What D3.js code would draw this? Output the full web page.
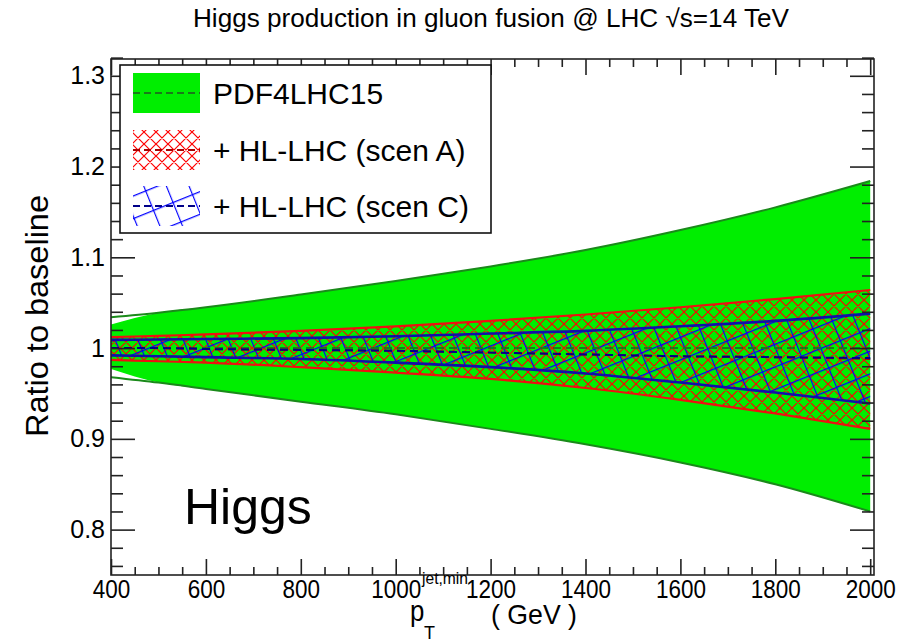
<!DOCTYPE html>
<html>
<head>
<meta charset="utf-8">
<script src="https://cdn.jsdelivr.net/npm/d3@7"></script>
<style>
  body { margin: 0; background: #fff; }
  text { font-family: "Liberation Sans", Arial, Helvetica, sans-serif; fill: #000; }
</style>
</head>
<body>
<svg id="chart"></svg>
<script>
// pT^{jet,min} grid (GeV)
const ptMin = [400, 500, 600, 800, 1000, 1200, 1400, 1600, 1800, 2000];

// PDF4LHC15 band (outline) and its fill, which starts a bit narrower
const pdfUp     = [1.034, 1.039, 1.045, 1.059, 1.074, 1.090, 1.108, 1.130, 1.155, 1.184];
const pdfDn     = [0.968, 0.962, 0.955, 0.941, 0.927, 0.911, 0.894, 0.874, 0.850, 0.820];
const pdfFillUp = [1.026, 1.039, 1.045, 1.059, 1.074, 1.090, 1.108, 1.130, 1.155, 1.184];
const pdfFillDn = [0.977, 0.962, 0.955, 0.941, 0.927, 0.911, 0.894, 0.874, 0.850, 0.820];
const pdfMid    = [1.000, 1.000, 1.000, 1.000, 1.000, 1.000, 1.000, 1.000, 1.000, 1.000];

// + HL-LHC (scen A)
const scenAUp  = [1.012, 1.0135, 1.015, 1.019, 1.024, 1.030, 1.037, 1.045, 1.054, 1.064];
const scenADn  = [0.987, 0.9855, 0.984, 0.979, 0.973, 0.966, 0.956, 0.943, 0.928, 0.911];
const scenAMid = [1.000, 1.000, 0.999, 0.998, 0.997, 0.995, 0.993, 0.991, 0.990, 0.988];

// + HL-LHC (scen C)
const scenCUp  = [1.009, 1.0095, 1.010, 1.011, 1.013, 1.016, 1.019, 1.024, 1.030, 1.038];
const scenCDn  = [0.992, 0.991, 0.990, 0.988, 0.984, 0.979, 0.972, 0.962, 0.951, 0.939];
const scenCMid = [1.000, 1.000, 0.999, 0.998, 0.997, 0.995, 0.993, 0.991, 0.990, 0.989];

const xMajor = [400, 600, 800, 1000, 1200, 1400, 1600, 1800, 2000];
const yMajor = [0.8, 0.9, 1.0, 1.1, 1.2, 1.3];
const yLabels = ["0.8", "0.9", "1", "1.1", "1.2", "1.3"];
const legendNames = ["PDF4LHC15", "+ HL-LHC (scen A)", "+ HL-LHC (scen C)"];

const width = 907, height = 642;
const frame = { left: 111, right: 874, top: 59, bottom: 575 };

const svg = d3.select("#chart").attr("width", width).attr("height", height);

const x = d3.scaleLinear().domain([400, 2008]).range([frame.left, frame.right]);
const y = d3.scaleLinear().domain([0.75, 1.3185]).range([frame.bottom, frame.top]);

// hatch patterns
const defs = svg.append("defs");
const hatchA = defs.append("pattern")
  .attr("id", "hatchA").attr("patternUnits", "userSpaceOnUse")
  .attr("width", 12).attr("height", 12);
hatchA.append("path").attr("d", "M0,0L12,12M0,12L12,0M-1,1L1,-1M11,13L13,11M-1,11L1,13M11,-1L13,1")
  .attr("stroke", "#ff0000").attr("stroke-width", 1.2).attr("fill", "none");

const hatchC = defs.append("pattern")
  .attr("id", "hatchC").attr("patternUnits", "userSpaceOnUse")
  .attr("width", 21).attr("height", 21)
  .attr("patternTransform", "rotate(-22)");
hatchC.append("path").attr("d", "M0,0.5H21M0.5,0V21")
  .attr("stroke", "#0000ff").attr("stroke-width", 1.3).attr("fill", "none");

const idx = d3.range(ptMin.length);

function band(up, dn) {
  return d3.area()
    .x(i => x(ptMin[i]))
    .y0(i => y(dn[i]))
    .y1(i => y(up[i]))
    .curve(d3.curveMonotoneX)(idx);
}
function line(vals) {
  return d3.line()
    .x(i => x(ptMin[i]))
    .y(i => y(vals[i]))
    .curve(d3.curveMonotoneX)(idx);
}

const plot = svg.append("g");

// PDF4LHC15 band
plot.append("path").attr("d", band(pdfFillUp, pdfFillDn)).attr("fill", "#00ee00");
[pdfUp, pdfDn].forEach(v => plot.append("path").attr("d", line(v))
  .attr("fill", "none").attr("stroke", "#1a8a1a").attr("stroke-width", 2));

// scen A
plot.append("path").attr("d", band(scenAUp, scenADn)).attr("fill", "url(#hatchA)");
[scenAUp, scenADn].forEach(v => plot.append("path").attr("d", line(v))
  .attr("fill", "none").attr("stroke", "#ee1010").attr("stroke-width", 2.2));

// scen C
plot.append("path").attr("d", band(scenCUp, scenCDn)).attr("fill", "url(#hatchC)");
[scenCUp, scenCDn].forEach(v => plot.append("path").attr("d", line(v))
  .attr("fill", "none").attr("stroke", "#1010a8").attr("stroke-width", 2.6));

// central lines
plot.append("path").attr("d", line(pdfMid)).attr("fill", "none")
  .attr("stroke", "#1a7a1a").attr("stroke-width", 2).attr("stroke-dasharray", "8,5");
plot.append("path").attr("d", line(scenAMid)).attr("fill", "none")
  .attr("stroke", "#aa0000").attr("stroke-width", 2).attr("stroke-dasharray", "8,5");
plot.append("path").attr("d", line(scenCMid)).attr("fill", "none")
  .attr("stroke", "#000088").attr("stroke-width", 2).attr("stroke-dasharray", "8,5");

// Axes (ROOT style: ticks inside, on all four sides)
const xMinor = d3.range(400, 2001, 50).filter(v => !xMajor.includes(v));
const yMinor = d3.range(0.76, 1.3201, 0.02).map(v => +v.toFixed(2))
  .filter(v => !yMajor.some(m => Math.abs(m - v) < 1e-6));

function styleAxis(g) {
  g.select(".domain").remove();
  g.selectAll(".tick line").attr("stroke", "#222").attr("stroke-width", 1.6);
}

svg.append("g").attr("transform", `translate(0,${frame.bottom})`)
  .call(d3.axisBottom(x).tickValues(xMajor).tickSize(-16).tickPadding(5).tickFormat(d3.format("d")))
  .call(styleAxis)
  .call(g => g.selectAll(".tick text")
    .attr("font-size", 25).attr("dy", "0.71em")
    .attr("transform", "scale(0.9,1)"));
svg.append("g").attr("transform", `translate(0,${frame.bottom})`)
  .call(d3.axisBottom(x).tickValues(xMinor).tickSize(-8).tickFormat(""))
  .call(styleAxis);
svg.append("g").attr("transform", `translate(0,${frame.top})`)
  .call(d3.axisTop(x).tickValues(xMajor).tickSize(-16).tickFormat(""))
  .call(styleAxis);
svg.append("g").attr("transform", `translate(0,${frame.top})`)
  .call(d3.axisTop(x).tickValues(xMinor).tickSize(-8).tickFormat(""))
  .call(styleAxis);

svg.append("g").attr("transform", `translate(${frame.left},0)`)
  .call(d3.axisLeft(y).tickValues(yMajor).tickSize(-24).tickPadding(6)
    .tickFormat((d, i) => yLabels[i]))
  .call(styleAxis)
  .call(g => g.selectAll(".tick text").attr("font-size", 25));
svg.append("g").attr("transform", `translate(${frame.left},0)`)
  .call(d3.axisLeft(y).tickValues(yMinor).tickSize(-12).tickFormat(""))
  .call(styleAxis);
svg.append("g").attr("transform", `translate(${frame.right},0)`)
  .call(d3.axisRight(y).tickValues(yMajor).tickSize(-24).tickFormat(""))
  .call(styleAxis);
svg.append("g").attr("transform", `translate(${frame.right},0)`)
  .call(d3.axisRight(y).tickValues(yMinor).tickSize(-12).tickFormat(""))
  .call(styleAxis);

// frame
svg.append("rect")
  .attr("x", frame.left).attr("y", frame.top)
  .attr("width", frame.right - frame.left).attr("height", frame.bottom - frame.top)
  .attr("fill", "none").attr("stroke", "#222").attr("stroke-width", 1.6);

// Title
svg.append("text")
  .attr("x", 491).attr("y", 27)
  .attr("text-anchor", "middle")
  .attr("font-size", 25)
  .attr("textLength", 596).attr("lengthAdjust", "spacingAndGlyphs")
  .text("Higgs production in gluon fusion @ LHC \u221As=14 TeV");

// y title
svg.append("text")
  .attr("transform", "translate(48,316) rotate(-90)")
  .attr("text-anchor", "middle")
  .attr("font-size", 32)
  .attr("textLength", 242).attr("lengthAdjust", "spacingAndGlyphs")
  .text("Ratio to baseline");

// x title: p_T^{jet,min} ( GeV )
const xt = svg.append("g").attr("transform", "translate(410,0)");
xt.append("text").attr("x", 0).attr("y", 621).attr("font-size", 30)
  .attr("transform", "scale(0.86,1)").text("p");
xt.append("text").attr("x", 12).attr("y", 584).attr("font-size", 17)
  .attr("textLength", 46).attr("lengthAdjust", "spacingAndGlyphs").text("jet,min");
xt.append("text").attr("x", 14).attr("y", 639).attr("font-size", 18).text("T");
xt.append("text").attr("x", 81).attr("y", 624).attr("font-size", 28)
  .attr("textLength", 86).attr("lengthAdjust", "spacingAndGlyphs").text("( GeV )");

// "Higgs" label
svg.append("text")
  .attr("x", 184).attr("y", 524)
  .attr("font-size", 50)
  .text("Higgs");

// Legend
const legend = svg.append("g");
legend.append("rect")
  .attr("x", 120).attr("y", 65).attr("width", 371).attr("height", 168)
  .attr("fill", "#fff").attr("stroke", "#111").attr("stroke-width", 1.6);

const legendRows = [93, 150, 206];
const swatch = { x: 133, w: 67, h: 40 };
const swatchFill = ["#00ee00", "url(#hatchA)", "url(#hatchC)"];
const swatchDash = ["#1a7a1a", "#aa0000", "#000088"];

legendNames.forEach((name, i) => {
  const cy = legendRows[i];
  legend.append("rect")
    .attr("x", swatch.x).attr("y", cy - swatch.h / 2)
    .attr("width", swatch.w).attr("height", swatch.h)
    .attr("fill", swatchFill[i]);
  legend.append("line")
    .attr("x1", swatch.x).attr("x2", swatch.x + swatch.w)
    .attr("y1", cy).attr("y2", cy)
    .attr("stroke", swatchDash[i]).attr("stroke-width", 2)
    .attr("stroke-dasharray", "7,4");
  legend.append("text")
    .attr("x", 213).attr("y", cy + 11)
    .attr("font-size", 30)
    .text(name);
});
</script>
</body>
</html>
